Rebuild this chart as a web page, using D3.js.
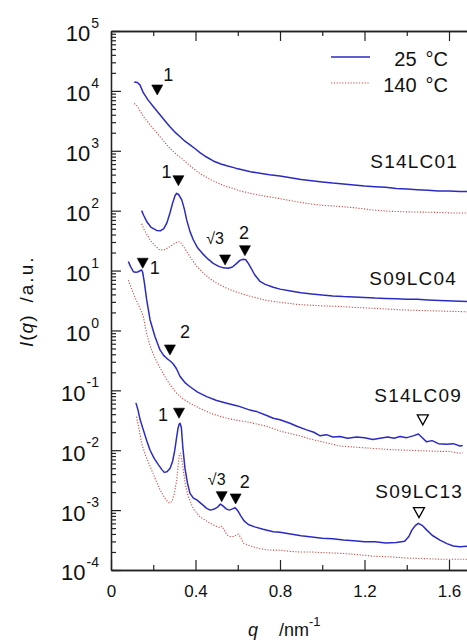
<!DOCTYPE html>
<html>
<head>
<meta charset="utf-8">
<script src="https://cdnjs.cloudflare.com/ajax/libs/d3/7.8.5/d3.min.js"></script>
<style>
  body { margin: 0; background: #fff; }
  svg { display: block; font-family: "Liberation Sans", Arial, Helvetica, sans-serif; }
</style>
</head>
<body>
<div id="chart"></div>
<script>
// Step 1: data (q in nm^-1, intensity as log10 I)
//= ================================
var xMajorTicks = [0, 0.4, 0.8, 1.2, 1.6];
var xMinorTicks = [0.2, 0.6, 1.0, 1.4, 1.8];
var xTickLabels = ["0", "0.4", "0.8", "1.2", "1.6"];
var yExponents = [-4, -3, -2, -1, 0, 1, 2, 3, 4, 5];

var sampleNames = ["S14LC01", "S09LC04", "S14LC09", "S09LC13"];
var legendLabels = ["25", "140"];

// S14LC01
var q_S14LC01_25 = [0.110, 0.125, 0.137, 0.153, 0.175, 0.200, 0.232, 0.255, 0.279, 0.30, 0.327, 0.35, 0.374, 0.40, 0.421, 0.45, 0.484, 0.52, 0.548, 0.59, 0.626, 0.66, 0.705, 0.75, 0.80, 0.85, 0.90, 0.95, 1.00, 1.05, 1.10, 1.15, 1.20, 1.25, 1.30, 1.35, 1.40, 1.45, 1.50, 1.55, 1.60, 1.65, 1.70];
var logI_S14LC01_25 = [4.15, 4.14, 4.10, 3.97, 3.85, 3.74, 3.60, 3.50, 3.40, 3.32, 3.235, 3.16, 3.10, 3.03, 2.97, 2.90, 2.83, 2.78, 2.75, 2.71, 2.68, 2.65, 2.625, 2.60, 2.58, 2.55, 2.52, 2.50, 2.48, 2.46, 2.445, 2.43, 2.41, 2.40, 2.39, 2.37, 2.36, 2.35, 2.34, 2.33, 2.33, 2.32, 2.32];
var q_S14LC01_140 = [0.110, 0.125, 0.140, 0.153, 0.170, 0.185, 0.21, 0.232, 0.255, 0.279, 0.31, 0.342, 0.38, 0.421, 0.46, 0.50, 0.54, 0.579, 0.611, 0.658, 0.70, 0.768, 0.83, 0.895, 0.95, 1.00, 1.084, 1.15, 1.242, 1.32, 1.40, 1.48, 1.557, 1.62, 1.70];
var logI_S14LC01_140 = [3.79, 3.74, 3.65, 3.57, 3.50, 3.43, 3.33, 3.235, 3.14, 3.04, 2.94, 2.85, 2.73, 2.62, 2.54, 2.47, 2.41, 2.37, 2.33, 2.29, 2.26, 2.22, 2.18, 2.14, 2.11, 2.09, 2.07, 2.05, 2.01, 1.99, 1.98, 1.975, 1.97, 1.96, 1.96];

// S09LC04
var q_S09LC04_25 = [0.145, 0.155, 0.169, 0.19, 0.216, 0.235, 0.250, 0.265, 0.279, 0.292, 0.303, 0.311, 0.320, 0.335, 0.347, 0.358, 0.374, 0.39, 0.41, 0.437, 0.46, 0.484, 0.51, 0.532, 0.555, 0.575, 0.595, 0.61, 0.626, 0.638, 0.65, 0.665, 0.68, 0.705, 0.73, 0.768, 0.80, 0.85, 0.90, 0.95, 1.00, 1.05, 1.10, 1.15, 1.20, 1.25, 1.30, 1.35, 1.40, 1.45, 1.50, 1.557, 1.62, 1.70];
var logI_S09LC04_25 = [2.00, 1.92, 1.82, 1.72, 1.67, 1.665, 1.70, 1.80, 1.96, 2.13, 2.25, 2.29, 2.27, 2.18, 2.03, 1.85, 1.65, 1.51, 1.38, 1.27, 1.19, 1.12, 1.07, 1.045, 1.04, 1.06, 1.12, 1.17, 1.19, 1.18, 1.12, 1.03, 0.93, 0.82, 0.77, 0.72, 0.69, 0.66, 0.63, 0.61, 0.59, 0.575, 0.565, 0.56, 0.55, 0.54, 0.535, 0.53, 0.52, 0.52, 0.51, 0.50, 0.49, 0.48];
var q_S09LC04_140 = [0.145, 0.160, 0.185, 0.21, 0.232, 0.255, 0.279, 0.30, 0.315, 0.327, 0.34, 0.358, 0.38, 0.406, 0.44, 0.47, 0.50, 0.55, 0.611, 0.66, 0.737, 0.80, 0.895, 0.95, 1.00, 1.084, 1.15, 1.242, 1.32, 1.40, 1.50, 1.60, 1.70];
var logI_S09LC04_140 = [1.78, 1.66, 1.51, 1.41, 1.34, 1.35, 1.40, 1.45, 1.48, 1.48, 1.42, 1.32, 1.20, 1.07, 0.95, 0.86, 0.79, 0.70, 0.62, 0.57, 0.50, 0.47, 0.43, 0.42, 0.41, 0.40, 0.385, 0.37, 0.355, 0.34, 0.33, 0.32, 0.31];

// S14LC09
var q_S14LC09_25 = [0.082, 0.092, 0.106, 0.118, 0.129, 0.138, 0.145, 0.150, 0.158, 0.169, 0.185, 0.208, 0.232, 0.250, 0.264, 0.280, 0.295, 0.310, 0.327, 0.350, 0.374, 0.41, 0.453, 0.50, 0.548, 0.60, 0.658, 0.69, 0.737, 0.768, 0.80, 0.847, 0.88, 0.926, 0.96, 0.99, 1.02, 1.05, 1.084, 1.12, 1.163, 1.20, 1.24, 1.273, 1.31, 1.34, 1.368, 1.40, 1.43, 1.455, 1.47, 1.494, 1.52, 1.55, 1.589, 1.62, 1.652, 1.665];
var logI_S14LC09_25 = [1.15, 1.07, 0.98, 0.97, 0.98, 1.00, 1.01, 0.97, 0.80, 0.51, 0.175, -0.10, -0.325, -0.42, -0.465, -0.51, -0.56, -0.64, -0.77, -0.87, -0.94, -1.03, -1.105, -1.17, -1.215, -1.26, -1.33, -1.355, -1.42, -1.465, -1.49, -1.55, -1.60, -1.66, -1.70, -1.76, -1.74, -1.78, -1.77, -1.80, -1.78, -1.79, -1.82, -1.80, -1.78, -1.80, -1.77, -1.79, -1.76, -1.73, -1.78, -1.86, -1.84, -1.89, -1.90, -1.89, -1.93, -1.92];
var q_S14LC09_140 = [0.082, 0.095, 0.106, 0.120, 0.137, 0.153, 0.169, 0.180, 0.192, 0.208, 0.224, 0.244, 0.264, 0.287, 0.311, 0.34, 0.374, 0.42, 0.469, 0.52, 0.579, 0.65, 0.737, 0.80, 0.895, 0.95, 1.00, 1.084, 1.16, 1.242, 1.32, 1.40, 1.48, 1.557, 1.60, 1.652, 1.665];
var logI_S14LC09_140 = [0.84, 0.72, 0.62, 0.50, 0.37, 0.23, -0.05, -0.20, -0.325, -0.46, -0.575, -0.70, -0.825, -0.94, -1.05, -1.14, -1.215, -1.30, -1.38, -1.44, -1.49, -1.53, -1.60, -1.68, -1.76, -1.82, -1.86, -1.93, -1.95, -1.97, -1.99, -2.0, -2.01, -2.02, -2.02, -2.05, -2.04];

// S09LC13
var q_S09LC13_25 = [0.118, 0.128, 0.137, 0.153, 0.17, 0.185, 0.205, 0.224, 0.240, 0.252, 0.265, 0.280, 0.292, 0.302, 0.310, 0.317, 0.322, 0.327, 0.333, 0.340, 0.350, 0.362, 0.374, 0.39, 0.406, 0.43, 0.453, 0.47, 0.49, 0.505, 0.518, 0.53, 0.545, 0.56, 0.575, 0.588, 0.60, 0.615, 0.63, 0.65, 0.68, 0.72, 0.768, 0.80, 0.85, 0.90, 0.95, 1.00, 1.05, 1.10, 1.15, 1.20, 1.25, 1.30, 1.35, 1.39, 1.41, 1.425, 1.44, 1.455, 1.475, 1.494, 1.52, 1.557, 1.59, 1.62, 1.65, 1.70];
var logI_S09LC13_25 = [-1.21, -1.33, -1.48, -1.66, -1.85, -2.00, -2.14, -2.24, -2.32, -2.37, -2.36, -2.30, -2.18, -2.00, -1.80, -1.64, -1.57, -1.55, -1.62, -1.95, -2.30, -2.55, -2.72, -2.80, -2.83, -2.90, -2.97, -3.00, -2.98, -2.95, -2.90, -2.93, -2.98, -3.00, -2.98, -2.96, -3.01, -3.10, -3.18, -3.24, -3.28, -3.32, -3.36, -3.37, -3.40, -3.43, -3.45, -3.47, -3.48, -3.50, -3.51, -3.53, -3.53, -3.55, -3.54, -3.52, -3.44, -3.33, -3.26, -3.22, -3.26, -3.33, -3.42, -3.50, -3.56, -3.60, -3.61, -3.60];
var q_S09LC13_140 = [0.121, 0.133, 0.145, 0.165, 0.185, 0.21, 0.232, 0.255, 0.270, 0.279, 0.290, 0.300, 0.311, 0.318, 0.324, 0.329, 0.335, 0.342, 0.352, 0.366, 0.39, 0.421, 0.46, 0.50, 0.515, 0.524, 0.535, 0.548, 0.565, 0.579, 0.592, 0.603, 0.615, 0.626, 0.66, 0.70, 0.737, 0.80, 0.85, 0.90, 0.95, 1.00, 1.084, 1.16, 1.242, 1.32, 1.40, 1.48, 1.557, 1.62, 1.70];
var logI_S09LC13_140 = [-1.44, -1.65, -1.89, -2.10, -2.27, -2.48, -2.66, -2.80, -2.87, -2.885, -2.84, -2.72, -2.50, -2.25, -2.06, -2.05, -2.15, -2.33, -2.58, -2.775, -2.98, -3.11, -3.20, -3.275, -3.29, -3.27, -3.32, -3.41, -3.44, -3.44, -3.42, -3.40, -3.46, -3.55, -3.60, -3.64, -3.665, -3.67, -3.69, -3.70, -3.70, -3.71, -3.72, -3.74, -3.77, -3.78, -3.80, -3.81, -3.82, -3.82, -3.82];

// peak markers (filled = Bragg peaks, open = other)
var markerQ = [0.219, 0.319, 0.540, 0.634, 0.150, 0.279, 0.322, 0.524, 0.590, 1.476, 1.458];
var markerLogI = [4.015, 2.50, 1.177, 1.332, 1.122, -0.326, -1.382, -2.775, -2.813, -1.494, -3.042];
var markerText = ["1", "1", "\u221A3", "2", "1", "2", "1", "\u221A3", "2", "", ""];
var markerOpen = [false, false, false, false, false, false, false, false, false, true, true];

// Step 2: chart setup
//= ================================
var svgWidth = 467;
var svgHeight = 641;
var margin = { top: 31, left: 111, bottom: 71 };
var plotBottom = svgHeight - margin.bottom;   // 570
var plotRight = margin.left + 1.8 * 211.25;  // runs past the window edge

var blue = "#2b2bc4";
var red = "#c8504a";

var svg = d3.select("#chart")
  .append("svg")
  .attr("width", svgWidth)
  .attr("height", svgHeight);

var xScale = d3.scaleLinear()
  .domain([0, 1.8])
  .range([margin.left, plotRight]);

var yScale = d3.scaleLog()
  .domain([1e-4, 1e5])
  .range([plotBottom, margin.top]);

svg.append("clipPath").attr("id", "plotclip")
  .append("rect")
  .attr("x", margin.left).attr("y", margin.top)
  .attr("width", plotRight - margin.left).attr("height", plotBottom - margin.top);

// Step 3: curves
//= ================================
var series = [
  { q: q_S14LC01_25, l: logI_S14LC01_25, hot: false },
  { q: q_S14LC01_140, l: logI_S14LC01_140, hot: true },
  { q: q_S09LC04_25, l: logI_S09LC04_25, hot: false },
  { q: q_S09LC04_140, l: logI_S09LC04_140, hot: true },
  { q: q_S14LC09_25, l: logI_S14LC09_25, hot: false },
  { q: q_S14LC09_140, l: logI_S14LC09_140, hot: true },
  { q: q_S09LC13_25, l: logI_S09LC13_25, hot: false },
  { q: q_S09LC13_140, l: logI_S09LC13_140, hot: true }
];

var line = d3.line()
  .x(d => xScale(d[0]))
  .y(d => yScale(Math.pow(10, d[1])));

var curveGroup = svg.append("g").attr("clip-path", "url(#plotclip)");
curveGroup.selectAll("path")
  .data(series)
  .enter()
  .append("path")
  .attr("d", s => line(s.q.map((v, i) => [v, s.l[i]])))
  .attr("fill", "none")
  .attr("stroke", s => s.hot ? red : blue)
  .attr("stroke-width", s => s.hot ? 1.1 : 1.5)
  .attr("stroke-dasharray", s => s.hot ? "1.2,1.6" : null)
  .attr("stroke-linejoin", "round");

// Step 4: axes, ticks inward
//= ================================
var axisColor = "#222";

function styleAxis(g) {
  g.attr("color", axisColor).attr("font-size", null).attr("font-family", null);
  g.select(".domain").attr("stroke-width", 1.3);
  g.selectAll(".tick line").attr("stroke-width", 1.2);
}

var bottomMajor = d3.axisBottom(xScale).tickValues(xMajorTicks)
  .tickSizeInner(-10).tickSizeOuter(0).tickPadding(14.5)
  .tickFormat((d, i) => xTickLabels[i]);
var bottomMinor = d3.axisBottom(xScale).tickValues(xMinorTicks)
  .tickSizeInner(-5).tickSizeOuter(0).tickFormat("");
var topMajor = d3.axisTop(xScale).tickValues(xMajorTicks)
  .tickSizeInner(-10).tickSizeOuter(0).tickFormat("");
var topMinor = d3.axisTop(xScale).tickValues(xMinorTicks)
  .tickSizeInner(-5).tickSizeOuter(0).tickFormat("");

var gb = svg.append("g").attr("transform", `translate(0, ${plotBottom})`).call(bottomMajor).call(styleAxis);
gb.selectAll(".tick text").attr("font-size", 17).attr("fill", "#111");
svg.append("g").attr("transform", `translate(0, ${plotBottom})`).call(bottomMinor).call(styleAxis);
svg.append("g").attr("transform", `translate(0, ${margin.top})`).call(topMajor).call(styleAxis);
svg.append("g").attr("transform", `translate(0, ${margin.top})`).call(topMinor).call(styleAxis);

var yMajor = yExponents.map(e => Math.pow(10, e));
var yMinor = [];
yExponents.slice(0, -1).forEach(function(e) {
  d3.range(2, 10).forEach(k => yMinor.push(k * Math.pow(10, e)));
});

var leftMajor = d3.axisLeft(yScale).tickValues(yMajor)
  .tickSizeInner(-10).tickSizeOuter(0).tickPadding(12).tickFormat("");
var leftMinor = d3.axisLeft(yScale).tickValues(yMinor)
  .tickSizeInner(-5).tickSizeOuter(0).tickFormat("");

var gl = svg.append("g").attr("transform", `translate(${margin.left}, 0)`).call(leftMajor).call(styleAxis);
gl.selectAll(".tick text")
  .attr("fill", "#111")
  .attr("font-size", 22)
  .attr("dy", "0.45em")
  .each(function(d, i) {
    var t = d3.select(this);
    t.append("tspan").text("10");
    t.append("tspan").attr("font-size", 14).attr("dy", "-0.95em").attr("dx", 1).text(String(yExponents[i]));
  });
svg.append("g").attr("transform", `translate(${margin.left}, 0)`).call(leftMinor).call(styleAxis);

// axis titles
var xt = svg.append("text")
  .attr("x", 248).attr("y", 636)
  .attr("font-size", 18).attr("fill", "#111");
xt.append("tspan").attr("font-style", "italic").text("q");
xt.append("tspan").attr("x", 279).text("/nm");
xt.append("tspan").attr("font-size", 13).attr("dy", -10).text("-1");

var yt = svg.append("text")
  .attr("transform", "translate(33, 347) rotate(-90)")
  .attr("font-size", 19).attr("fill", "#111")
  .attr("letter-spacing", 1);
yt.append("tspan").attr("font-style", "italic").text("I");
yt.append("tspan").text("(");
yt.append("tspan").attr("font-style", "italic").text("q");
yt.append("tspan").text(")");
yt.append("tspan").attr("dx", 12).attr("letter-spacing", 2).text("/a.u.");

// Step 5: peak markers and labels
//= ================================
var labelOffsets = [[11, -9], [-12, -3], [-10, -16], [-1, -12], [12, 11], [15, -12], [-16, 8], [-5, -12], [9, -11], [0, 0], [0, 0]];

var markers = svg.append("g");
markerQ.forEach(function(q, i) {
  var cx = xScale(q);
  var cy = yScale(Math.pow(10, markerLogI[i]));
  markers.append("path")
    .attr("d", `M${cx - 5.5},${cy - 5} L${cx + 5.5},${cy - 5} L${cx},${cy + 5} Z`)
    .attr("fill", markerOpen[i] ? "#fff" : "#000")
    .attr("stroke", "#000")
    .attr("stroke-width", markerOpen[i] ? 1.3 : 0.6)
    .attr("stroke-linejoin", "miter");
  if (markerText[i]) {
    markers.append("text")
      .attr("x", cx + labelOffsets[i][0])
      .attr("y", cy + labelOffsets[i][1])
      .attr("text-anchor", "middle")
      .attr("font-size", markerText[i].length > 1 ? 16 : 18)
      .attr("fill", "#111")
      .text(markerText[i]);
  }
});

// sample names
var nameRight = [458, 457, 462, 463];
var nameBase = [168, 285, 402, 498];
svg.selectAll(".sample")
  .data(sampleNames)
  .enter()
  .append("text")
  .attr("class", "sample")
  .attr("x", (d, i) => nameRight[i])
  .attr("y", (d, i) => nameBase[i])
  .attr("text-anchor", "end")
  .attr("font-size", 19)
  .attr("letter-spacing", 1.2)
  .attr("fill", "#111")
  .text(d => d);

// Step 6: legend
//= ================================
var legend = svg.append("g");
legendLabels.forEach(function(lab, i) {
  var ly = 57 + i * 26;
  legend.append("line")
    .attr("x1", 331).attr("x2", 370)
    .attr("y1", ly).attr("y2", ly)
    .attr("stroke", i === 0 ? blue : red)
    .attr("stroke-width", i === 0 ? 1.5 : 1.1)
    .attr("stroke-dasharray", i === 0 ? null : "1.2,1.6");
  var t = legend.append("text")
    .attr("x", 448).attr("y", ly + 9)
    .attr("text-anchor", "end")
    .attr("font-size", 20)
    .attr("fill", "#111");
  t.append("tspan").text(lab);
  t.append("tspan").attr("dx", 9).text("\u00B0C");
});
</script>
</body>
</html>
